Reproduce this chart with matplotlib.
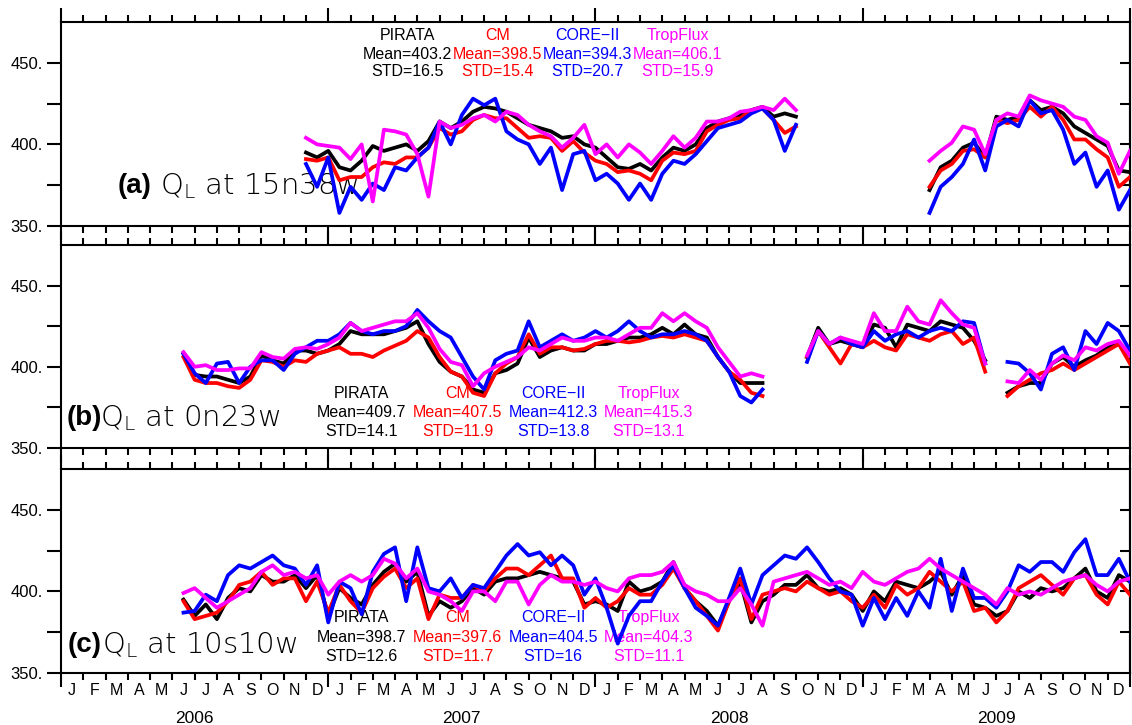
import numpy as np
import matplotlib.pyplot as plt

nan = np.nan

# months since Jan 2006, half-month steps
# ---- panel (a) 15n38w, starts Dec 2006
a_start = 11.0
a_pirata = [395, 392, 396, 386, 384, 390, 399, 396, 398,
            400, 396, 402, 414, 410, 414, 420, 423, 422, 420, 416, 412, 410, 408, 404, 405,
            400, 398, 392, 386, 385, 388, 384, 392, 398, 396, 400, 410, 414, 416, 418,
            421, 423, 417, 419, 417,
            nan, nan, nan, nan, nan, nan, nan, nan, nan, nan, nan,
            372, 386, 390, 398, 401, 392, 417, 415, 417, 427, 421, 423, 419, 411, 407, 403, 399, 384, 383]
a_cm = [391, 390, 392, 378, 380, 380, 386, 389, 388,
        392, 392, 398, 410, 406, 408, 415, 418, 416, 416, 410, 404, 405, 404, 396, 402,
        395, 390, 388, 383, 384, 382, 378, 390, 395, 394, 396, 408, 412, 415, 416,
        421, 422, 415, 407, 411,
        nan, nan, nan, nan, nan, nan, nan, nan, nan, nan, nan,
        374, 384, 388, 396, 397, 392, 415, 413, 415, 423, 417, 423, 415, 403, 403, 397, 392, 374, 380]
a_core = [388, 374, 392, 358, 374, 366, 376, 372, 386,
          384, 392, 398, 414, 400, 418, 428, 424, 428, 408, 403, 400, 388, 398, 372, 394,
          396, 378, 382, 376, 366, 376, 366, 382, 390, 388, 394, 402, 410, 412, 414,
          419, 422, 415, 396, 412,
          nan, nan, nan, nan, nan, nan, nan, nan, nan, nan, nan,
          358, 374, 380, 388, 403, 384, 411, 415, 411, 427, 419, 421, 409, 388, 395, 374, 384, 360, 372]
a_trop = [404, 400, 399, 398, 391, 400, 365, 409, 408,
          406, 394, 368, 414, 410, 412, 416, 418, 414, 420, 418, 412, 408, 405, 398, 404,
          412, 394, 400, 392, 400, 395, 388, 396, 405, 398, 404, 414, 414, 416, 420,
          421, 423, 421, 428, 421,
          nan, nan, nan, nan, nan, nan, nan, nan, nan, nan, nan,
          390, 396, 401, 411, 409, 394, 415, 419, 417, 430, 427, 425, 423, 417, 415, 405, 401, 382, 396]

# ---- panel (b) 0n23w, starts Jun 2006
b_start = 5.5
b_pirata = [408, 395, 394, 394, 392, 390, 394, 407, 404, 402, 410, 410, 408, 410, 414, 422, 420, 420, 420, 422,
            424, 428, 414, 403, 397, 394, 386, 384, 396, 398, 402, 418, 406, 410, 412, 410, 410, 414, 414, 416,
            418, 418, 420, 424, 420, 426, 420, 418, 406, 397, 390, 390, 390,
            nan, nan, nan,
            406, 424, 414, 416, 414, 412, 426, 424, 412, 426, 424, 422, 428, 426, 424, 416, 404,
            nan,
            384, 388, 390, 390, 402, 406, 400, 404, 407, 412, 414, 407]
b_cm = [406, 392, 390, 390, 388, 387, 392, 404, 403, 400, 404, 403, 408, 410, 412, 408, 408, 406, 410, 413,
        416, 422, 418, 406, 397, 394, 384, 382, 396, 402, 406, 420, 408, 412, 412, 410, 411, 414, 416, 416,
        415, 416, 418, 419, 418, 420, 418, 416, 406, 397, 392, 384, 382,
        nan, nan, nan,
        406, 422, 412, 402, 414, 412, 416, 412, 410, 420, 418, 416, 420, 422, 414, 418, 397,
        nan,
        382, 388, 392, 396, 398, 402, 398, 402, 406, 410, 414, 402]
b_core = [408, 396, 390, 402, 403, 390, 400, 404, 404, 398, 408, 412, 416, 416, 420, 427, 422, 420, 422, 422,
          425, 435, 428, 422, 418, 406, 394, 386, 404, 408, 410, 428, 412, 416, 420, 416, 418, 422, 418, 422,
          428, 422, 418, 420, 420, 422, 420, 416, 406, 397, 382, 378, 386,
          nan, nan, nan,
          403, 422, 414, 418, 414, 412, 422, 416, 420, 422, 418, 422, 424, 422, 428, 427, 402,
          nan,
          403, 402, 396, 386, 408, 412, 398, 422, 414, 427, 422, 410]
b_trop = [409, 400, 401, 398, 398, 399, 399, 409, 406, 405, 411, 412, 411, 414, 418, 427, 422, 424, 426, 428,
          428, 433, 424, 411, 403, 401, 388, 396, 400, 403, 406, 412, 410, 414, 418, 416, 416, 418, 418, 416,
          420, 424, 424, 433, 428, 433, 428, 424, 412, 403, 394, 396, 394,
          nan, nan, nan,
          407, 422, 414, 418, 416, 414, 433, 422, 422, 437, 428, 426, 441, 433, 426, 424, 402,
          nan,
          391, 390, 398, 392, 402, 407, 404, 412, 410, 414, 416, 407]

# ---- panel (c) 10s10w, starts Jun 2006
c_start = 5.5
c_pirata = [395, 385, 392, 383, 396, 402, 400, 410, 406, 406, 410, 402, 410, 385, 402, 396, 392, 404, 412, 417,
            406, 412, 385, 394, 390, 394, 402, 398, 406, 408, 408, 410, 412, 410, 408, 406, 392, 394, 392, 388,
            406, 400, 402, 406, 418, 402, 394, 388, 379, 394, 406, 381, 394, 398, 404, 404, 410, 402, 400, 402,
            398, 388, 400, 394, 406, 404, 402, 406, 412, 398, 410, 392, 390, 385, 388, 400, 396, 402, 400, 402,
            408, 414, 400, 396, 410, 406]
c_cm = [394, 383, 385, 387, 394, 404, 406, 412, 404, 408, 408, 394, 406, 387, 404, 394, 387, 402, 409, 414,
        402, 408, 383, 398, 396, 396, 404, 400, 408, 414, 414, 410, 416, 422, 408, 408, 390, 396, 390, 394,
        402, 398, 398, 404, 414, 402, 394, 385, 376, 394, 408, 383, 398, 400, 402, 400, 406, 402, 398, 400,
        394, 390, 398, 390, 404, 398, 402, 412, 406, 400, 406, 388, 390, 381, 388, 402, 406, 410, 404, 398,
        408, 410, 398, 392, 406, 398]
c_core = [387, 388, 398, 394, 410, 416, 414, 418, 422, 416, 414, 404, 416, 381, 406, 402, 386, 412, 423, 427,
          394, 427, 402, 400, 408, 396, 404, 402, 412, 422, 429, 422, 424, 416, 422, 416, 398, 408, 390, 368,
          385, 394, 394, 406, 416, 402, 390, 385, 379, 396, 414, 392, 410, 416, 422, 420, 427, 418, 408, 400,
          398, 379, 396, 383, 396, 385, 400, 390, 420, 388, 414, 396, 396, 390, 400, 416, 412, 418, 418, 412,
          424, 432, 410, 410, 420, 406]
c_trop = [399, 402, 396, 390, 394, 398, 402, 412, 416, 410, 412, 408, 410, 398, 406, 410, 406, 410, 420, 417,
          408, 414, 400, 398, 394, 388, 400, 400, 394, 406, 406, 392, 404, 410, 406, 406, 404, 406, 402, 400,
          408, 410, 410, 412, 418, 404, 400, 398, 394, 394, 402, 392, 379, 406, 408, 410, 412, 408, 404, 406,
          402, 412, 406, 404, 408, 412, 414, 420, 414, 410, 406, 402, 398, 392, 402, 398, 400, 398, 402, 406,
          408, 410, 404, 400, 406, 408]

sources = ["PIRATA", "CM", "CORE\u2212II", "TropFlux"]
colors = ["black", "red", "blue", "magenta"]
a_stats = [("403.2", "16.5"), ("398.5", "15.4"), ("394.3", "20.7"), ("406.1", "15.9")]
b_stats = [("409.7", "14.1"), ("407.5", "11.9"), ("412.3", "13.8"), ("415.3", "13.1")]
c_stats = [("398.7", "12.6"), ("397.6", "11.7"), ("404.5", "16"), ("404.3", "11.1")]

months = ["J", "F", "M", "A", "M", "J", "J", "A", "S", "O", "N", "D"]
years = ["2006", "2007", "2008", "2009"]

font = "Liberation Sans"
light = {"family": "DejaVu Sans", "weight": "light"}

fig = plt.figure(figsize=(11.32, 7.25), dpi=100)
rects = [[0.0539, 0.6883, 0.9443, 0.2814],
         [0.0539, 0.3821, 0.9443, 0.2800],
         [0.0539, 0.0717, 0.9443, 0.2814]]


def panel(rect, start, series, stats, letter, site, lab_x, q_x, lab_y, stat_x, stat_y):
    ax = fig.add_axes(rect)
    for vals, col in zip(series, colors):
        x = start + 0.5 * np.arange(len(vals))
        ax.plot(x, vals, color=col, lw=2.7, zorder=3)
    ax.set_xlim(0, 48)
    ax.set_ylim(350, 475)
    ax.set_yticks([350, 400, 450])
    ax.set_yticklabels(["350.", "400.", "450."], fontsize=12, family=font)
    ax.set_yticks([375, 425], minor=True)
    ax.set_xticks([0, 12, 24, 36, 48])
    ax.set_xticks([m for m in range(48) if m % 12], minor=True)
    ax.tick_params(axis="x", which="both", top=True, bottom=True, direction="out",
                   labelbottom=False, width=1.5)
    ax.tick_params(axis="x", which="major", length=10)
    ax.tick_params(axis="x", which="minor", length=5)
    ax.tick_params(axis="y", which="both", left=True, right=False, direction="out",
                   length=10, width=1.5, pad=3)
    right = ax.secondary_yaxis("right")
    right.set_yticks([375, 400, 425, 450])
    right.tick_params(direction="in", length=7, width=1.5, labelright=False)
    right.spines["right"].set_linewidth(1.5)
    for s in ax.spines.values():
        s.set_linewidth(1.5)

    ax.text(lab_x, lab_y, letter, fontsize=20, fontweight="bold", family=font,
            va="center", ha="left", zorder=1)
    ax.text(q_x, lab_y, "Q$_{\\mathregular{L}}$ at " + site, fontsize=21, va="center",
            ha="left", zorder=1, **light)

    for i, (name, col, (mean, std)) in enumerate(zip(sources, colors, stats)):
        xs = stat_x[0] + i * stat_x[1]
        ax.text(xs, stat_y[0], name, color=col, fontsize=11.5, family=font, ha="center", va="center", zorder=1)
        ax.text(xs, stat_y[1], "Mean=" + mean, color=col, fontsize=11.5, family=font, ha="center", va="center", zorder=1)
        ax.text(xs, stat_y[2], "STD=" + std, color=col, fontsize=11.5, family=font, ha="center", va="center", zorder=1)
    return ax


panel(rects[0], a_start, [a_pirata, a_cm, a_core, a_trop], a_stats, "(a)", "15n38w",
      2.55, 4.45, 374.5, (15.55, 4.05), (466.7, 455.0, 444.7))
panel(rects[1], b_start, [b_pirata, b_cm, b_core, b_trop], b_stats, "(b)", "0n23w",
      0.27, 1.75, 368.5, (13.5, 4.3), (383.8, 371.6, 360.2))
ax = panel(rects[2], c_start, [c_pirata, c_cm, c_core, c_trop], c_stats, "(c)", "10s10w",
           0.31, 1.85, 367.0, (13.5, 4.3), (383.8, 371.6, 360.2))

tr = ax.get_xaxis_transform()
for y in range(4):
    for m, lab in enumerate(months):
        ax.text(y * 12 + m + 0.5, -0.085, lab, transform=tr, ha="center", va="center",
                fontsize=11.5, family=font)
    ax.text(y * 12 + 6, -0.225, years[y], transform=tr, ha="center", va="center",
            fontsize=12.5, family=font)

fig.savefig("out.png", dpi=100)
